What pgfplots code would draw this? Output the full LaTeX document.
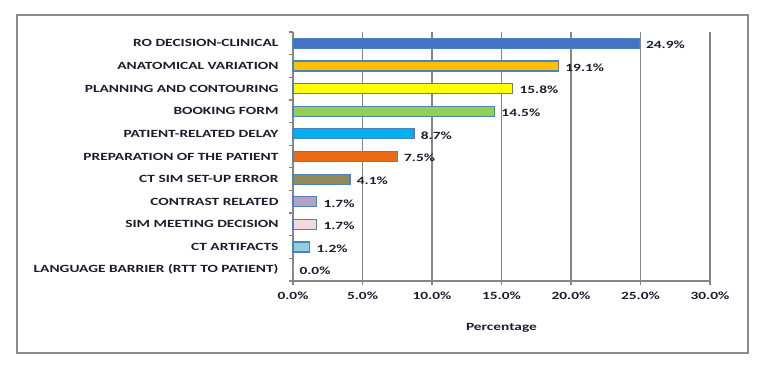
\documentclass[border=0pt]{standalone}
\usepackage{fontspec}
\setmainfont[FakeStretch=1.4]{Carlito}
\usepackage{pgfplots}
\pgfplotsset{compat=1.18}
\definecolor{frame}{HTML}{8C8C8C}
\definecolor{gridc}{HTML}{858585}
\definecolor{barline}{HTML}{4F81BD}
\definecolor{txt}{HTML}{1C1C30}
\definecolor{c1}{HTML}{4472C4}
\definecolor{c2}{HTML}{FFC000}
\definecolor{c3}{HTML}{FFFF00}
\definecolor{c4}{HTML}{92D050}
\definecolor{c5}{HTML}{00B0F0}
\definecolor{c6}{HTML}{EE6A12}
\definecolor{c7}{HTML}{948A54}
\definecolor{c8}{HTML}{B3A2C7}
\definecolor{c9}{HTML}{F2DCDB}
\definecolor{c10}{HTML}{93CDDD}
\definecolor{c11}{HTML}{FFFFFF}
\begin{document}
\begin{tikzpicture}[x=1pt,y=1pt]
\path (0,0) rectangle (768,381);
\draw[color=frame, line width=1.5pt] (17,28) rectangle (748,366);
\begin{axis}[
  at={(293pt,100pt)}, anchor=south west,
  scale only axis, width=417pt, height=249pt,
  xbar, bar width=10pt,
  xmin=0, xmax=30, ymin=-0.5, ymax=10.5, y dir=reverse,
  xtick={0,5,...,30},
  xticklabel={\pgfmathprintnumber[fixed,fixed zerofill,precision=1]{\tick}\%},
  xticklabel style={yshift=-3pt},
  ytick={-0.5,0.5,...,10.5},
  yticklabels={RO DECISION-CLINICAL,ANATOMICAL VARIATION,PLANNING AND CONTOURING,BOOKING FORM,PATIENT-RELATED DELAY,PREPARATION OF THE PATIENT,CT SIM SET-UP ERROR,CONTRAST RELATED,SIM MEETING DECISION,CT ARTIFACTS,LANGUAGE BARRIER (RTT TO PATIENT),{}},
  yticklabel style={yshift=-11.3pt, xshift=-7pt},
  /pgf/number format/assume math mode=true,
  axis x line*=bottom, axis y line*=left,
  axis line style={gridc, line width=1.3pt, -},
  xmajorgrids, grid style={gridc, line width=1.3pt},
  tick style={gridc, line width=1.3pt},
  major tick length=4pt, tick align=outside,
  every tick label/.append style={font=\bfseries\fontsize{11}{13}\selectfont, text=txt},
  xlabel={Percentage},
  xlabel style={font=\bfseries\fontsize{11}{13}\selectfont, text=txt, yshift=-17pt},
  point meta=x,
  nodes near coords={\pgfmathprintnumber[fixed,fixed zerofill,precision=1]{\pgfplotspointmeta}\%},
  every node near coord/.append style={font=\bfseries\fontsize{11}{13}\selectfont, text=txt, anchor=west, xshift=3pt, yshift=-1.5pt},
  clip=false,
]
\addplot[bar shift=0pt, draw=barline, line width=1.2pt, fill=c1] coordinates {(24.9,0)};
\addplot[bar shift=0pt, draw=barline, line width=1.2pt, fill=c2] coordinates {(19.1,1)};
\addplot[bar shift=0pt, draw=barline, line width=1.2pt, fill=c3] coordinates {(15.8,2)};
\addplot[bar shift=0pt, draw=barline, line width=1.2pt, fill=c4] coordinates {(14.5,3)};
\addplot[bar shift=0pt, draw=barline, line width=1.2pt, fill=c5] coordinates {(8.7,4)};
\addplot[bar shift=0pt, draw=barline, line width=1.2pt, fill=c6] coordinates {(7.5,5)};
\addplot[bar shift=0pt, draw=barline, line width=1.2pt, fill=c7] coordinates {(4.1,6)};
\addplot[bar shift=0pt, draw=barline, line width=1.2pt, fill=c8] coordinates {(1.7,7)};
\addplot[bar shift=0pt, draw=barline, line width=1.2pt, fill=c9] coordinates {(1.7,8)};
\addplot[bar shift=0pt, draw=barline, line width=1.2pt, fill=c10] coordinates {(1.2,9)};
\addplot[bar shift=0pt, draw=none, fill=c11] coordinates {(0.0,10)};
\end{axis}
\end{tikzpicture}
\end{document}
